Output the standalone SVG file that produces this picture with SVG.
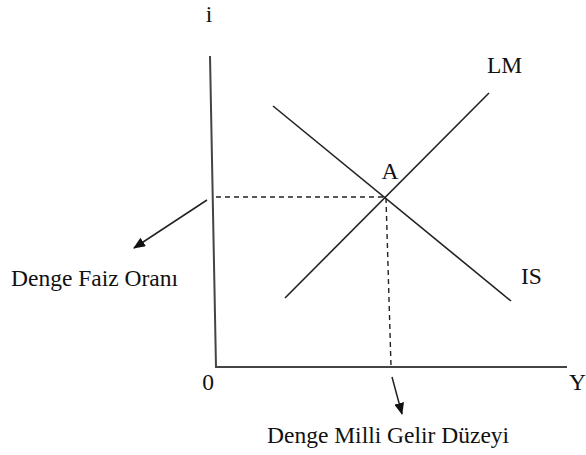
<svg xmlns="http://www.w3.org/2000/svg" width="586" height="455" viewBox="0 0 586 455">
<style>
text{font-family:"Liberation Serif","Times New Roman",serif;font-size:23.5px;fill:#111}
.ax{stroke:#444;stroke-width:2;fill:none}
.cv{stroke:#222;stroke-width:1.6;fill:none}
.ds{stroke:#222;stroke-width:1.4;stroke-dasharray:5,4;fill:none}
.ar{stroke:#222;stroke-width:1.5;fill:none}
</style>
<defs>
<marker id="ah" viewBox="0 0 12 10" refX="11" refY="5" markerWidth="12" markerHeight="10" markerUnits="userSpaceOnUse" orient="auto">
<path d="M0,0 L12,5 L0,10 z" fill="#111"/>
</marker>
</defs>
<rect width="586" height="455" fill="#fff"/>
<g id="axes">
<polyline class="ax" points="210,56 216,367 567,367"/>
<text x="209" y="22" text-anchor="middle">i</text>
<text x="208" y="390" text-anchor="middle">0</text>
<text x="569" y="390">Y</text>
</g>
<g id="IS">
<line class="cv" x1="273" y1="106" x2="511" y2="301"/>
<text x="521" y="284">IS</text>
</g>
<g id="LM">
<line class="cv" x1="285" y1="298" x2="489" y2="93"/>
<text x="487" y="73">LM</text>
</g>
<g id="A">
<text x="390" y="179" text-anchor="middle">A</text>
</g>
<g id="connectors">
<line class="ds" x1="216" y1="197" x2="385" y2="197"/>
<line class="ds" x1="386" y1="198" x2="391" y2="366"/>
<line class="ar" x1="207" y1="200" x2="134" y2="248" marker-end="url(#ah)"/>
<line class="ar" x1="392" y1="377" x2="402" y2="414" marker-end="url(#ah)"/>
</g>
<g id="label-faiz">
<text x="11" y="286">Denge Faiz Oranı</text>
</g>
<g id="label-gelir">
<text x="267" y="443">Denge Milli Gelir Düzeyi</text>
</g>
</svg>
